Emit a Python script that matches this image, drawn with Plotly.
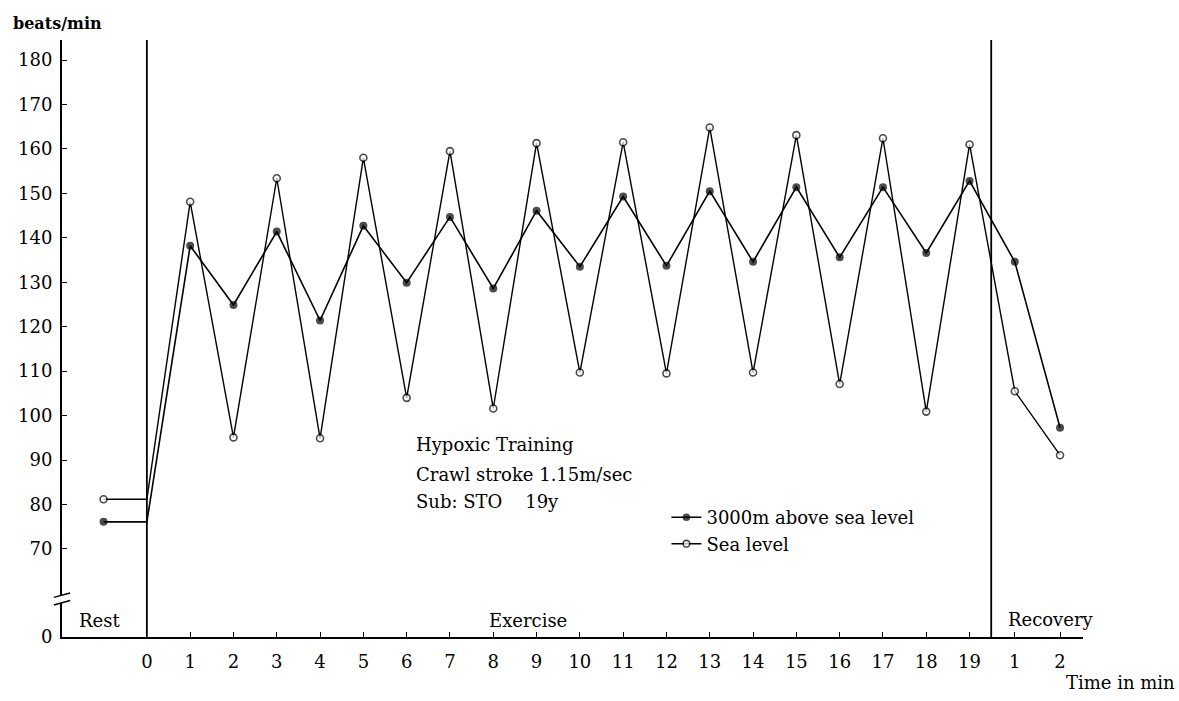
import plotly.graph_objects as go

# ---------------- data ----------------
exercise_min = list(range(1, 20))
hr_3000_ex = [138.2, 124.9, 141.4, 121.4, 142.7, 129.9, 144.7, 128.6, 146.1, 133.5,
              149.3, 133.7, 150.5, 134.6, 151.4, 135.6, 151.4, 136.6, 152.8]
hr_sea_ex = [148.1, 95.1, 153.4, 94.9, 158.0, 104.0, 159.5, 101.6, 161.3, 109.7,
             161.5, 109.5, 164.8, 109.7, 163.1, 107.1, 162.4, 100.9, 161.0]
recovery_min = [1, 2]
hr_3000_rec = [134.6, 97.3]
hr_sea_rec = [105.5, 91.1]
hr_3000_rest = 76.1
hr_sea_rest = 81.2

y_tick_vals = [70, 80, 90, 100, 110, 120, 130, 140, 150, 160, 170, 180]
x_tick_labels = [str(i) for i in range(0, 20)] + ["1", "2"]

# ---------------- axis geometry ----------------
REST_X = -1.0
REC_SCALE = 1.045           # recovery minute -> axis position (19 + m*scale)
REC_LINE = 19.5
Y_ZERO = 50.2               # axis value where the broken axis shows "0"
X_RANGE = [-1.96, 21.62]
Y_RANGE = [50.2, 184.5]

rec_x = [19 + m * REC_SCALE for m in recovery_min]

x3000 = [REST_X, 0] + exercise_min + rec_x
y3000 = [hr_3000_rest, hr_3000_rest] + hr_3000_ex + hr_3000_rec
xsea = [REST_X, 0] + exercise_min + rec_x
ysea = [hr_sea_rest, hr_sea_rest] + hr_sea_ex + hr_sea_rec

sizes = [8, 0] + [8] * (len(exercise_min) + len(rec_x))
sizes_o = [7, 0] + [7] * (len(exercise_min) + len(rec_x))

INK = "#000000"
FONT = "DejaVu Serif"
FS = 18

fig = go.Figure()
fig.add_trace(go.Scatter(
    x=x3000, y=y3000, mode="lines+markers", name="3000m above sea level",
    line=dict(color=INK, width=1.6),
    marker=dict(symbol="circle", size=sizes, color=INK, line=dict(width=0)),
))
fig.add_trace(go.Scatter(
    x=xsea, y=ysea, mode="lines+markers", name="Sea level",
    line=dict(color=INK, width=1.4),
    marker=dict(symbol="circle", size=sizes_o, color="white", line=dict(color=INK, width=1.6)),
))

tickvals_x = list(range(0, 20)) + rec_x

fig.update_xaxes(
    range=X_RANGE, showgrid=False, zeroline=False,
    showline=True, linecolor=INK, linewidth=2,
    tickmode="array", tickvals=tickvals_x, ticktext=x_tick_labels,
    ticks="inside", ticklen=5, tickwidth=1.2, tickcolor=INK,
    tickfont=dict(family=FONT, size=FS, color=INK),
    ticklabelstandoff=7,
)
fig.update_yaxes(
    range=Y_RANGE, showgrid=False, zeroline=False,
    showline=True, linecolor=INK, linewidth=2,
    tickmode="array", tickvals=[Y_ZERO] + y_tick_vals,
    ticktext=["0"] + [str(v) for v in y_tick_vals],
    ticks="inside", ticklen=5, tickwidth=1.2, tickcolor=INK,
    tickfont=dict(family=FONT, size=FS, color=INK),
    ticklabelstandoff=4,
)

# vertical phase separators
for xv in [0, REC_LINE]:
    fig.add_shape(type="line", xref="x", yref="paper", x0=xv, x1=xv, y0=0, y1=1,
                  line=dict(color=INK, width=1.8), layer="above")

# axis break
fig.add_shape(type="rect", xref="paper", yref="y", x0=-0.006, x1=0.006, y0=57.9, y1=59.6,
              fillcolor="white", line=dict(width=0), layer="above")
for yb in [57.9, 59.6]:
    fig.add_shape(type="line", xref="paper", yref="y", x0=-0.008, x1=0.008, y0=yb - 0.5, y1=yb + 0.5,
                  line=dict(color=INK, width=1.4), layer="above")

def ann(text, x, y, xref="x", yref="y", xanchor="left", yanchor="middle", size=FS):
    fig.add_annotation(text=text, x=x, y=y, xref=xref, yref=yref, showarrow=False,
                       xanchor=xanchor, yanchor=yanchor,
                       font=dict(family=FONT, size=size, color=INK))

ann("Rest", -1.1, 54.0, xanchor="center")
ann("Exercise", 8.8, 54.0, xanchor="center")
ann("Recovery", 20.87, 54.2, xanchor="center")
ann("Hypoxic Training", 6.18, 93.4)
ann("Crawl stroke 1.15m/sec", 6.18, 86.7)
ann("Sub: STO\u00a0\u00a0\u00a0\u00a019y", 6.18, 80.6)
ann("<b>beats/min</b>", -0.050, 1.027, xref="paper", yref="paper", size=16)
ann("Time in min", 1.092, -0.076, xref="paper", yref="paper", xanchor="right", size=FS)

fig.update_layout(
    width=1179, height=701,
    margin=dict(l=62, r=96, t=40, b=64),
    paper_bgcolor="white", plot_bgcolor="white",
    showlegend=True,
    legend=dict(x=0.592, y=0.231, xanchor="left", yanchor="top",
                font=dict(family=FONT, size=FS, color=INK),
                bgcolor="rgba(0,0,0,0)", itemwidth=30, tracegroupgap=0),
)

fig.write_html("out.html")
